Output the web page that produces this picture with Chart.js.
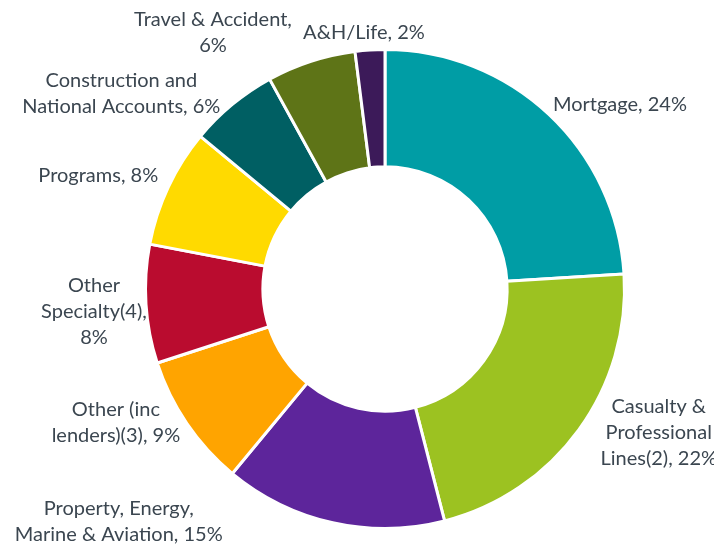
<!DOCTYPE html>
<html>
<head>
<meta charset="utf-8">
<script src="https://cdn.jsdelivr.net/npm/chart.js@4/dist/chart.umd.min.js"></script>
<style>
  html, body { margin: 0; padding: 0; background: #ffffff; }
  #wrap { width: 714px; height: 546px; }
</style>
</head>
<body>
<div id="wrap"><canvas id="c" width="714" height="546"></canvas></div>
<script>
// ---- Data ----
const categories = [
  "Mortgage",
  "Casualty & Professional Lines(2)",
  "Property, Energy, Marine & Aviation",
  "Other (inc lenders)(3)",
  "Other Specialty(4)",
  "Programs",
  "Construction and National Accounts",
  "Travel & Accident",
  "A&H/Life"
];
const shares = [24, 22, 15, 9, 8, 8, 6, 6, 2];

// ---- Styles / layout (kept apart from data) ----
const colors = ["#009DA5", "#9CC221", "#5D259B", "#FFA400", "#BA0C2F", "#FFDA00", "#005F63", "#5E7417", "#3C1A59"];
// word indices after which the label wraps
const labelBreaks = [[], [1, 2], [1], [1], [0, 1], [], [1], [2], []];
// label nudges from the arc's outer mid-point (px)
const labelNudge = [[71, -10], [80, 3], [-214, -1], [-71, -1], [-52, 8], [-70, -11], [-111, -11], [-98, -29], [-6, -17]];
const FONT = '20px Lato';
const LINE_H = 26;
const TEXT_COLOR = '#3B4650';

const labelPlugin = {
  id: 'outLabels',
  afterDatasetsDraw(chart) {
    const ctx = chart.ctx;
    const meta = chart.getDatasetMeta(0);
    ctx.save();
    ctx.font = FONT;
    ctx.fillStyle = TEXT_COLOR;
    ctx.textAlign = 'center';
    ctx.textBaseline = 'middle';
    meta.data.forEach((arc, i) => {
      const p = arc.getProps(['x', 'y', 'startAngle', 'endAngle', 'outerRadius'], true);
      const mid = (p.startAngle + p.endAngle) / 2;
      const ax = p.x + Math.cos(mid) * p.outerRadius + labelNudge[i][0];
      const ay = p.y + Math.sin(mid) * p.outerRadius + labelNudge[i][1];
      const words = (chart.data.labels[i] + ', ' + chart.data.datasets[0].data[i] + '%').split(' ');
      const lines = [];
      let cur = [];
      words.forEach((w, k) => {
        cur.push(w);
        if (labelBreaks[i].includes(k)) { lines.push(cur.join(' ')); cur = []; }
      });
      if (cur.length) lines.push(cur.join(' '));
      const y0 = ay - (lines.length - 1) * LINE_H / 2;
      lines.forEach((ln, j) => ctx.fillText(ln, ax, y0 + j * LINE_H));
    });
    ctx.restore();
  }
};

new Chart(document.getElementById('c'), {
  type: 'doughnut',
  data: {
    labels: categories,
    datasets: [{
      data: shares,
      backgroundColor: colors,
      borderColor: '#ffffff',
      borderWidth: 3,
      hoverOffset: 0
    }]
  },
  options: {
    responsive: false,
    animation: false,
    cutout: '51%',
    layout: { padding: { left: 144, right: 88, top: 48, bottom: 16 } },
    plugins: { legend: { display: false }, tooltip: { enabled: false } }
  },
  plugins: [labelPlugin]
});
</script>
</body>
</html>
